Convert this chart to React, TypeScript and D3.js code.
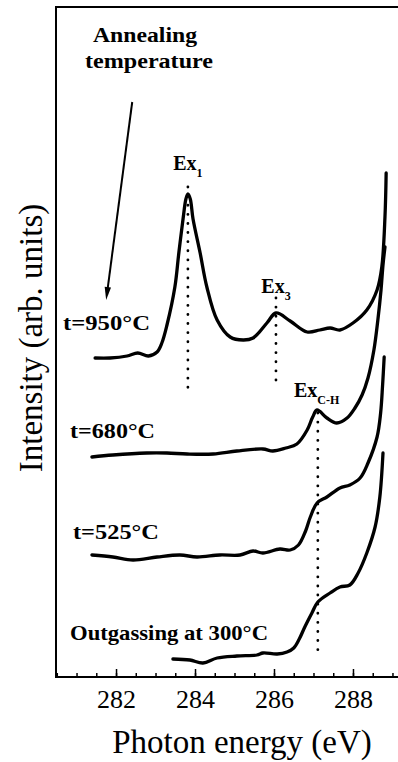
import { useEffect, useRef } from 'react'
import * as d3 from 'd3'

// spectra, [photon energy (eV), intensity (arb. units, offset)]
const spectrum950 = [
  [281.47, 319], [281.85, 319], [282.28, 321], [282.55, 324], [282.82, 321],
  [283.04, 325], [283.16, 334], [283.29, 352], [283.49, 390], [283.59, 424],
  [283.70, 459], [283.77, 478], [283.82, 483], [283.88, 478], [283.95, 458],
  [284.13, 424], [284.30, 390], [284.56, 357], [284.89, 340], [285.22, 337],
  [285.47, 339], [285.82, 354], [286.05, 364], [286.41, 356], [286.84, 345],
  [287.16, 347], [287.42, 349], [287.67, 347], [288.0, 354], [288.35, 367],
  [288.61, 387], [288.73, 410], [288.81, 460], [288.84, 504],
]
const spectrum680 = [
  [281.39, 220], [281.92, 222], [282.78, 224], [283.29, 224], [283.8, 223],
  [284.46, 223], [285.06, 226], [285.72, 228], [285.97, 226], [286.3, 229],
  [286.58, 233], [286.84, 247], [286.98, 260], [287.09, 267], [287.34, 259],
  [287.59, 254], [287.85, 259], [288.05, 269], [288.23, 282], [288.38, 299],
  [288.53, 327], [288.63, 357], [288.71, 387], [288.76, 412], [288.81, 430],
]
const spectrum525 = [
  [281.39, 122], [281.92, 120], [282.43, 117], [283.04, 120], [283.62, 122],
  [284.05, 120], [284.63, 122], [285.14, 122], [285.47, 126], [285.72, 124],
  [286.15, 128], [286.41, 127], [286.62, 132], [286.8, 146], [286.92, 160],
  [287.09, 174], [287.34, 180], [287.67, 189], [287.92, 192], [288.18, 199],
  [288.38, 214], [288.61, 240], [288.7, 264], [288.75, 292], [288.79, 320],
]
const spectrum300 = [
  [283.44, 18], [283.87, 17], [284.2, 14], [284.56, 19], [285.06, 21],
  [285.57, 22], [285.72, 24], [286.08, 23], [286.33, 25], [286.5, 29],
  [286.64, 38], [286.78, 50], [286.96, 64], [287.11, 75], [287.42, 84],
  [287.67, 90], [287.92, 92], [288.13, 104], [288.35, 124], [288.56, 150],
  [288.68, 180], [288.76, 224],
]
const spectra = [spectrum950, spectrum680, spectrum525, spectrum300]

// exciton markers: [energy, top, bottom]
const excitons = [
  [283.82, 490, 289],
  [286.05, 379, 290],
  [287.11, 264, 20],
]

const energyTicks = [282, 284, 286, 288]
const minorTicks = d3.range(280.5, 289.01, 0.5)

const W = 398
const H = 762
const serif = '"Liberation Serif", "Times New Roman", serif'

export default function App() {
  const axisRef = useRef<SVGGElement>(null)

  const x = d3.scaleLinear().domain([280.48, 289.14]).range([56, 398])
  const y = d3.scaleLinear().domain([0, 670]).range([677, 7])

  useEffect(() => {
    const g = d3.select(axisRef.current)
    g.selectAll('*').remove()

    const minor = g.append('g').attr('transform', 'translate(0,677)')
      .call(d3.axisBottom(x).tickValues(minorTicks).tickSizeInner(-4).tickSizeOuter(0).tickFormat(() => ''))
    minor.select('.domain').remove()
    minor.selectAll('line').attr('stroke', '#000').attr('stroke-width', 1.5)

    const major = g.append('g').attr('transform', 'translate(0,677)')
      .call(d3.axisBottom(x).tickValues(energyTicks).tickSizeInner(-8).tickSizeOuter(0).tickPadding(13).tickFormat(d3.format('d')))
    major.select('.domain').remove()
    major.selectAll('line').attr('stroke', '#000').attr('stroke-width', 1.5)
    major.selectAll('text')
      .attr('fill', '#000')
      .style('font-family', serif)
      .style('font-size', '26px')
  }, [])

  const line = d3.line<number[]>()
    .x(d => x(d[0]))
    .y(d => y(d[1]))
    .curve(d3.curveCatmullRom.alpha(0.5))

  // arrow for annealing temperature
  const ax0 = x(282.41), ay0 = y(575)
  const ax1 = x(281.75), ay1 = y(377)
  const ang = Math.atan2(ay1 - ay0, ax1 - ax0)
  const hl = 13, hw = 3.2
  const head = [
    [ax1, ay1],
    [ax1 - hl * Math.cos(ang) + hw * Math.sin(ang), ay1 - hl * Math.sin(ang) - hw * Math.cos(ang)],
    [ax1 - hl * Math.cos(ang) - hw * Math.sin(ang), ay1 - hl * Math.sin(ang) + hw * Math.cos(ang)],
  ]

  const bold = { fontFamily: serif, fontWeight: 700 }

  return (
    <svg width={W} height={H} style={{ position: 'absolute', left: 0, top: 0, background: '#fff' }}>
      {/* frame */}
      <path d="M398,7 H56 V677 H398" fill="none" stroke="#000" strokeWidth={2} />
      <g ref={axisRef} />

      {spectra.map((s, i) => (
        <path key={i} d={line(s) || ''} fill="none" stroke="#000" strokeWidth={3.3} strokeLinejoin="round" strokeLinecap="round" />
      ))}

      {excitons.map((e, i) => (
        <line key={i} x1={x(e[0])} x2={x(e[0])} y1={y(e[1])} y2={y(e[2])}
          stroke="#000" strokeWidth={2.8} strokeDasharray="0.1 9" strokeLinecap="round" />
      ))}

      {/* exciton labels */}
      <text x={x(283.82)} y={170} textAnchor="middle" fontSize={20} style={bold}>
        Ex<tspan dy={7} fontSize={12}>1</tspan>
      </text>
      <text x={x(286.05)} y={293} textAnchor="middle" fontSize={20} style={bold}>
        Ex<tspan dy={7} fontSize={12}>3</tspan>
      </text>
      <text x={294} y={397} fontSize={20} style={bold}>
        Ex<tspan dy={7} fontSize={12}>C-H</tspan>
      </text>

      {/* annealing annotation */}
      <text x={145} y={42} textAnchor="middle" fontSize={20} textLength={104} lengthAdjust="spacingAndGlyphs" style={bold}>Annealing</text>
      <text x={149} y={68} textAnchor="middle" fontSize={20} textLength={128} lengthAdjust="spacingAndGlyphs" style={bold}>temperature</text>
      <line x1={ax0} y1={ay0} x2={ax1 - 8 * Math.cos(ang)} y2={ay1 - 8 * Math.sin(ang)} stroke="#000" strokeWidth={2} />
      <polygon points={head.map(p => p.join(',')).join(' ')} fill="#000" />

      {/* series labels */}
      <text x={63} y={330} fontSize={22} textLength={87} lengthAdjust="spacingAndGlyphs" style={bold}>t=950°C</text>
      <text x={70} y={438} fontSize={22} textLength={85} lengthAdjust="spacingAndGlyphs" style={bold}>t=680°C</text>
      <text x={73} y={539} fontSize={22} textLength={86} lengthAdjust="spacingAndGlyphs" style={bold}>t=525°C</text>
      <text x={70} y={640} fontSize={21} textLength={198} lengthAdjust="spacingAndGlyphs" style={bold}>Outgassing at 300°C</text>

      {/* axis titles */}
      <text x={242} y={753} textAnchor="middle" fontSize={33} style={{ fontFamily: serif }}>Photon energy (eV)</text>
      <text transform="translate(42,338) rotate(-90)" textAnchor="middle" fontSize={33} style={{ fontFamily: serif }}>Intensity (arb. units)</text>
    </svg>
  )
}
